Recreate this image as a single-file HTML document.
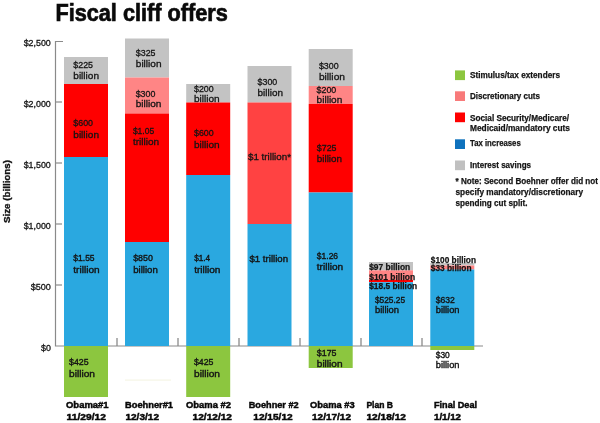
<!DOCTYPE html>
<html><head><meta charset="utf-8"><style>html,body{margin:0;padding:0;background:#fff;width:600px;height:423px;overflow:hidden}svg{display:block;will-change:transform}text{font-family:"Liberation Sans",sans-serif}</style></head><body>
<svg width="600" height="423" viewBox="0 0 600 423">
<rect x="0" y="0" width="600" height="423" fill="#fff"/>
<path d="M63 41.5H55.5V346H483" fill="none" stroke="#8a8a8a" stroke-width="1.2"/>
<path d="M55.5 102H62" stroke="#8a8a8a" stroke-width="1.2"/>
<path d="M55.5 163H62" stroke="#8a8a8a" stroke-width="1.2"/>
<path d="M55.5 224H62" stroke="#8a8a8a" stroke-width="1.2"/>
<path d="M55.5 285H62" stroke="#8a8a8a" stroke-width="1.2"/>
<path d="M117 338V346" stroke="#8a8a8a" stroke-width="1.3"/>
<path d="M178 338V346" stroke="#8a8a8a" stroke-width="1.3"/>
<path d="M239 338V346" stroke="#8a8a8a" stroke-width="1.3"/>
<path d="M300 338V346" stroke="#8a8a8a" stroke-width="1.3"/>
<path d="M361 338V346" stroke="#8a8a8a" stroke-width="1.3"/>
<path d="M422 338V346" stroke="#8a8a8a" stroke-width="1.3"/>
<rect x="64" y="57" width="44" height="27.00" fill="#c3c3c3"/>
<rect x="64" y="84" width="44" height="73.00" fill="#ff0000"/>
<rect x="64" y="157" width="44" height="189.00" fill="#2aa8e0"/>
<rect x="64" y="346" width="44" height="51.00" fill="#8cc63f"/>
<rect x="125" y="38.5" width="44" height="39.00" fill="#c3c3c3"/>
<rect x="125" y="77.5" width="44" height="36.00" fill="#ff8585"/>
<rect x="125" y="113.5" width="44" height="128.50" fill="#ff0000"/>
<rect x="125" y="242" width="44" height="104.00" fill="#2aa8e0"/>
<rect x="186.2" y="84" width="44" height="18.50" fill="#c3c3c3"/>
<rect x="186.2" y="102.5" width="44" height="72.50" fill="#ff0000"/>
<rect x="186.2" y="175" width="44" height="171.00" fill="#2aa8e0"/>
<rect x="186.2" y="346" width="44" height="51.00" fill="#8cc63f"/>
<rect x="247.5" y="66" width="44" height="36.50" fill="#c3c3c3"/>
<rect x="247.5" y="102.5" width="44" height="121.50" fill="#ff4242"/>
<rect x="247.5" y="224" width="44" height="122.00" fill="#2aa8e0"/>
<rect x="308.7" y="49" width="44" height="37.00" fill="#c3c3c3"/>
<rect x="308.7" y="86" width="44" height="18.00" fill="#ff8585"/>
<rect x="308.7" y="104" width="44" height="88.50" fill="#ff0000"/>
<rect x="308.7" y="192.5" width="44" height="153.50" fill="#2aa8e0"/>
<rect x="308.7" y="346" width="44" height="22.00" fill="#8cc63f"/>
<rect x="369" y="262" width="44" height="8.30" fill="#c3c3c3"/>
<rect x="369" y="270.3" width="44" height="9.70" fill="#ff8585"/>
<rect x="369" y="280" width="44" height="2.20" fill="#ff0000"/>
<rect x="369" y="282.2" width="44" height="63.80" fill="#2aa8e0"/>
<rect x="430.3" y="263" width="44" height="2.50" fill="#c3c3c3"/>
<rect x="430.3" y="265.5" width="44" height="4.00" fill="#ff8585"/>
<rect x="430.3" y="269.5" width="44" height="76.50" fill="#2aa8e0"/>
<rect x="430.3" y="346" width="44" height="4.00" fill="#8cc63f"/>
<rect x="125" y="379.5" width="46" height="1.20" fill="#f6f6e6"/>
<rect x="455" y="70.4" width="10" height="9.70" fill="#8cc63f"/>
<rect x="455" y="91.3" width="10" height="9.70" fill="#f87a7a"/>
<rect x="455" y="112.5" width="10" height="9.70" fill="#ff0000"/>
<rect x="455" y="139.3" width="10" height="9.70" fill="#0f72bd"/>
<rect x="455" y="160.5" width="10" height="9.70" fill="#c0c0c0"/>
<text x="55.4" y="20.8" font-size="23.5" fill="#0a0a0a" font-weight="bold" textLength="172.3" lengthAdjust="spacingAndGlyphs" stroke="#0a0a0a" stroke-width="0.7">Fiscal cliff offers</text>
<text x="23.7" y="45.8" font-size="8.7" fill="#141414" textLength="27.099999999999998" lengthAdjust="spacingAndGlyphs" stroke="#141414" stroke-width="0.3">$2,500</text>
<text x="23.7" y="106.8" font-size="8.7" fill="#141414" textLength="27.099999999999998" lengthAdjust="spacingAndGlyphs" stroke="#141414" stroke-width="0.3">$2,000</text>
<text x="23.7" y="167.8" font-size="8.7" fill="#141414" textLength="27.099999999999998" lengthAdjust="spacingAndGlyphs" stroke="#141414" stroke-width="0.3">$1,500</text>
<text x="23.7" y="228.8" font-size="8.7" fill="#141414" textLength="27.099999999999998" lengthAdjust="spacingAndGlyphs" stroke="#141414" stroke-width="0.3">$1,000</text>
<text x="30.7" y="289.8" font-size="8.7" fill="#141414" textLength="20.099999999999998" lengthAdjust="spacingAndGlyphs" stroke="#141414" stroke-width="0.3">$500</text>
<text x="41" y="350.8" font-size="8.7" fill="#141414" textLength="9.799999999999997" lengthAdjust="spacingAndGlyphs" stroke="#141414" stroke-width="0.3">$0</text>
<text x="73.3" y="68" font-size="9.4" fill="#141414" textLength="19.7" lengthAdjust="spacingAndGlyphs" stroke="#141414" stroke-width="0.3">$225</text>
<text x="73.3" y="79.2" font-size="9.4" fill="#141414" textLength="25.7" lengthAdjust="spacingAndGlyphs" stroke="#141414" stroke-width="0.3">billion</text>
<text x="73.3" y="125.8" font-size="9.4" fill="#141414" textLength="19.7" lengthAdjust="spacingAndGlyphs" stroke="#141414" stroke-width="0.3">$600</text>
<text x="73.3" y="137.5" font-size="9.4" fill="#141414" textLength="25.7" lengthAdjust="spacingAndGlyphs" stroke="#141414" stroke-width="0.3">billion</text>
<text x="73.3" y="260.8" font-size="9.4" fill="#141414" textLength="21.3" lengthAdjust="spacingAndGlyphs" stroke="#141414" stroke-width="0.4">$1.55</text>
<text x="73.3" y="272.9" font-size="9.4" fill="#141414" textLength="26.3" lengthAdjust="spacingAndGlyphs" stroke="#141414" stroke-width="0.4">trillion</text>
<text x="69.1" y="365.1" font-size="9.4" fill="#141414" textLength="19.5" lengthAdjust="spacingAndGlyphs" stroke="#141414" stroke-width="0.4">$425</text>
<text x="69.1" y="376.8" font-size="9.4" fill="#141414" textLength="25.9" lengthAdjust="spacingAndGlyphs" stroke="#141414" stroke-width="0.4">billion</text>
<text x="135.8" y="55.5" font-size="9.4" fill="#141414" textLength="19.7" lengthAdjust="spacingAndGlyphs" stroke="#141414" stroke-width="0.3">$325</text>
<text x="135.8" y="67" font-size="9.4" fill="#141414" textLength="25.7" lengthAdjust="spacingAndGlyphs" stroke="#141414" stroke-width="0.3">billion</text>
<text x="135.7" y="96.5" font-size="9.4" fill="#141414" textLength="19.7" lengthAdjust="spacingAndGlyphs" stroke="#141414" stroke-width="0.3">$300</text>
<text x="135.7" y="107.3" font-size="9.4" fill="#141414" textLength="25.7" lengthAdjust="spacingAndGlyphs" stroke="#141414" stroke-width="0.3">billion</text>
<text x="132.9" y="133.8" font-size="9.4" fill="#141414" textLength="21.3" lengthAdjust="spacingAndGlyphs" stroke="#141414" stroke-width="0.3">$1.05</text>
<text x="132.9" y="144.6" font-size="9.4" fill="#141414" textLength="26.3" lengthAdjust="spacingAndGlyphs" stroke="#141414" stroke-width="0.3">trillion</text>
<text x="133.2" y="261.3" font-size="9.4" fill="#141414" textLength="19.7" lengthAdjust="spacingAndGlyphs" stroke="#141414" stroke-width="0.4">$850</text>
<text x="133.2" y="272.7" font-size="9.4" fill="#141414" textLength="24.6" lengthAdjust="spacingAndGlyphs" stroke="#141414" stroke-width="0.4">billion</text>
<text x="194" y="91.9" font-size="9.4" fill="#141414" textLength="19.7" lengthAdjust="spacingAndGlyphs" stroke="#141414" stroke-width="0.3">$200</text>
<text x="194" y="102.3" font-size="9.4" fill="#141414" textLength="25.7" lengthAdjust="spacingAndGlyphs" stroke="#141414" stroke-width="0.3">billion</text>
<text x="194" y="135.8" font-size="9.4" fill="#141414" textLength="19.7" lengthAdjust="spacingAndGlyphs" stroke="#141414" stroke-width="0.3">$600</text>
<text x="194" y="147.5" font-size="9.4" fill="#141414" textLength="25.7" lengthAdjust="spacingAndGlyphs" stroke="#141414" stroke-width="0.3">billion</text>
<text x="194.2" y="261.3" font-size="9.4" fill="#141414" textLength="16" lengthAdjust="spacingAndGlyphs" stroke="#141414" stroke-width="0.4">$1.4</text>
<text x="194.2" y="273" font-size="9.4" fill="#141414" textLength="26.3" lengthAdjust="spacingAndGlyphs" stroke="#141414" stroke-width="0.4">trillion</text>
<text x="194" y="365.1" font-size="9.4" fill="#141414" textLength="19.5" lengthAdjust="spacingAndGlyphs" stroke="#141414" stroke-width="0.4">$425</text>
<text x="194" y="376.8" font-size="9.4" fill="#141414" textLength="25.9" lengthAdjust="spacingAndGlyphs" stroke="#141414" stroke-width="0.4">billion</text>
<text x="257.6" y="84.6" font-size="9.4" fill="#141414" textLength="19.7" lengthAdjust="spacingAndGlyphs" stroke="#141414" stroke-width="0.3">$300</text>
<text x="257.6" y="96" font-size="9.4" fill="#141414" textLength="25.4" lengthAdjust="spacingAndGlyphs" stroke="#141414" stroke-width="0.3">billion</text>
<text x="248" y="159.5" font-size="9.4" fill="#141414" textLength="43" lengthAdjust="spacingAndGlyphs" stroke="#141414" stroke-width="0.3">$1 trillion*</text>
<text x="249.5" y="261.5" font-size="9.4" fill="#141414" textLength="38.5" lengthAdjust="spacingAndGlyphs" stroke="#141414" stroke-width="0.4">$1 trillion</text>
<text x="318.9" y="69" font-size="9.4" fill="#141414" textLength="19.7" lengthAdjust="spacingAndGlyphs" stroke="#141414" stroke-width="0.3">$300</text>
<text x="318.9" y="80.4" font-size="9.4" fill="#141414" textLength="26.1" lengthAdjust="spacingAndGlyphs" stroke="#141414" stroke-width="0.3">billion</text>
<text x="316.6" y="92.7" font-size="9.4" fill="#141414" textLength="19.7" lengthAdjust="spacingAndGlyphs" stroke="#141414" stroke-width="0.3">$200</text>
<text x="316.6" y="103" font-size="9.4" fill="#141414" textLength="25.7" lengthAdjust="spacingAndGlyphs" stroke="#141414" stroke-width="0.3">billion</text>
<text x="316.8" y="150.5" font-size="9.4" fill="#141414" textLength="19.7" lengthAdjust="spacingAndGlyphs" stroke="#141414" stroke-width="0.3">$725</text>
<text x="316.8" y="162" font-size="9.4" fill="#141414" textLength="25.2" lengthAdjust="spacingAndGlyphs" stroke="#141414" stroke-width="0.3">billion</text>
<text x="316.8" y="258.5" font-size="9.4" fill="#141414" textLength="21.3" lengthAdjust="spacingAndGlyphs" stroke="#141414" stroke-width="0.4">$1.26</text>
<text x="316.8" y="270" font-size="9.4" fill="#141414" textLength="26.3" lengthAdjust="spacingAndGlyphs" stroke="#141414" stroke-width="0.4">trillion</text>
<text x="316.8" y="355.5" font-size="9.4" fill="#141414" textLength="19.7" lengthAdjust="spacingAndGlyphs" stroke="#141414" stroke-width="0.4">$175</text>
<text x="316.8" y="367" font-size="9.4" fill="#141414" textLength="25.7" lengthAdjust="spacingAndGlyphs" stroke="#141414" stroke-width="0.4">billion</text>
<text x="369.2" y="269.5" font-size="9" fill="#141414" font-weight="bold" textLength="41" lengthAdjust="spacingAndGlyphs" stroke="#141414" stroke-width="0.25">$97 billion</text>
<text x="369.2" y="279.5" font-size="9" fill="#141414" font-weight="bold" textLength="46" lengthAdjust="spacingAndGlyphs" stroke="#141414" stroke-width="0.25">$101 billion</text>
<text x="369.2" y="288.7" font-size="9" fill="#141414" font-weight="bold" textLength="48" lengthAdjust="spacingAndGlyphs" stroke="#141414" stroke-width="0.25">$18.5 billion</text>
<text x="375" y="303" font-size="9.4" fill="#141414" textLength="30" lengthAdjust="spacingAndGlyphs" stroke="#141414" stroke-width="0.4">$525.25</text>
<text x="375" y="313" font-size="9.4" fill="#141414" textLength="24" lengthAdjust="spacingAndGlyphs" stroke="#141414" stroke-width="0.4">billion</text>
<text x="430.8" y="263" font-size="9" fill="#141414" font-weight="bold" textLength="45.2" lengthAdjust="spacingAndGlyphs" stroke="#141414" stroke-width="0.25">$100 billion</text>
<text x="430.8" y="270.5" font-size="9" fill="#141414" font-weight="bold" textLength="40.7" lengthAdjust="spacingAndGlyphs" stroke="#141414" stroke-width="0.25">$33 billion</text>
<text x="435.8" y="303" font-size="9.4" fill="#141414" textLength="19" lengthAdjust="spacingAndGlyphs" stroke="#141414" stroke-width="0.4">$632</text>
<text x="435.8" y="313" font-size="9.4" fill="#141414" textLength="23.7" lengthAdjust="spacingAndGlyphs" stroke="#141414" stroke-width="0.4">billion</text>
<text x="435.8" y="358" font-size="9.4" fill="#141414" textLength="14" lengthAdjust="spacingAndGlyphs" stroke="#141414" stroke-width="0.4">$30</text>
<text x="435.8" y="368" font-size="9.4" fill="#141414" textLength="23.7" lengthAdjust="spacingAndGlyphs" stroke="#141414" stroke-width="0.4">billion</text>
<text x="66" y="408.3" font-size="9.3" fill="#080808" font-weight="bold" textLength="42.6" lengthAdjust="spacingAndGlyphs" stroke="#080808" stroke-width="0.45">Obama#1</text>
<text x="66.6" y="420.2" font-size="9.3" fill="#080808" font-weight="bold" textLength="39.4" lengthAdjust="spacingAndGlyphs" stroke="#080808" stroke-width="0.45">11/29/12</text>
<text x="125" y="408.3" font-size="9.3" fill="#080808" font-weight="bold" textLength="48" lengthAdjust="spacingAndGlyphs" stroke="#080808" stroke-width="0.45">Boehner#1</text>
<text x="125.4" y="420.2" font-size="9.3" fill="#080808" font-weight="bold" textLength="33.6" lengthAdjust="spacingAndGlyphs" stroke="#080808" stroke-width="0.45">12/3/12</text>
<text x="186" y="408.3" font-size="9.3" fill="#080808" font-weight="bold" textLength="45" lengthAdjust="spacingAndGlyphs" stroke="#080808" stroke-width="0.45">Obama #2</text>
<text x="192.6" y="420.2" font-size="9.3" fill="#080808" font-weight="bold" textLength="39.4" lengthAdjust="spacingAndGlyphs" stroke="#080808" stroke-width="0.45">12/12/12</text>
<text x="248.7" y="408.3" font-size="9.3" fill="#080808" font-weight="bold" textLength="50" lengthAdjust="spacingAndGlyphs" stroke="#080808" stroke-width="0.45">Boehner #2</text>
<text x="253.3" y="420.2" font-size="9.3" fill="#080808" font-weight="bold" textLength="39.4" lengthAdjust="spacingAndGlyphs" stroke="#080808" stroke-width="0.45">12/15/12</text>
<text x="310" y="408.3" font-size="9.3" fill="#080808" font-weight="bold" textLength="44.6" lengthAdjust="spacingAndGlyphs" stroke="#080808" stroke-width="0.45">Obama #3</text>
<text x="312" y="420.2" font-size="9.3" fill="#080808" font-weight="bold" textLength="39" lengthAdjust="spacingAndGlyphs" stroke="#080808" stroke-width="0.45">12/17/12</text>
<text x="366.4" y="408.3" font-size="9.3" fill="#080808" font-weight="bold" textLength="26.6" lengthAdjust="spacingAndGlyphs" stroke="#080808" stroke-width="0.45">Plan B</text>
<text x="366.4" y="420.2" font-size="9.3" fill="#080808" font-weight="bold" textLength="39.6" lengthAdjust="spacingAndGlyphs" stroke="#080808" stroke-width="0.45">12/18/12</text>
<text x="434" y="408.3" font-size="9.3" fill="#080808" font-weight="bold" textLength="43" lengthAdjust="spacingAndGlyphs" stroke="#080808" stroke-width="0.45">Final Deal</text>
<text x="434" y="420.2" font-size="9.3" fill="#080808" font-weight="bold" textLength="27" lengthAdjust="spacingAndGlyphs" stroke="#080808" stroke-width="0.45">1/1/12</text>
<text x="470" y="78" font-size="9" fill="#141414" font-weight="bold" textLength="90" lengthAdjust="spacingAndGlyphs" stroke="#141414" stroke-width="0.25">Stimulus/tax extenders</text>
<text x="470" y="99" font-size="9" fill="#141414" font-weight="bold" textLength="70" lengthAdjust="spacingAndGlyphs" stroke="#141414" stroke-width="0.25">Discretionary cuts</text>
<text x="470" y="120.7" font-size="9" fill="#141414" font-weight="bold" textLength="99" lengthAdjust="spacingAndGlyphs" stroke="#141414" stroke-width="0.25">Social Security/Medicare/</text>
<text x="470" y="131" font-size="9" fill="#141414" font-weight="bold" textLength="100" lengthAdjust="spacingAndGlyphs" stroke="#141414" stroke-width="0.25">Medicaid/mandatory cuts</text>
<text x="470" y="146" font-size="9" fill="#141414" font-weight="bold" textLength="50.7" lengthAdjust="spacingAndGlyphs" stroke="#141414" stroke-width="0.25">Tax increases</text>
<text x="470" y="167.6" font-size="9" fill="#141414" font-weight="bold" textLength="61" lengthAdjust="spacingAndGlyphs" stroke="#141414" stroke-width="0.25">Interest savings</text>
<text x="455.5" y="184.25" font-size="9" fill="#141414" font-weight="bold" textLength="142.5" lengthAdjust="spacingAndGlyphs" stroke="#141414" stroke-width="0.25">* Note: Second Boehner offer did not</text>
<text x="455.5" y="194.5" font-size="9" fill="#141414" font-weight="bold" textLength="127.5" lengthAdjust="spacingAndGlyphs" stroke="#141414" stroke-width="0.25">specify mandatory/discretionary</text>
<text x="455.5" y="205.75" font-size="9" fill="#141414" font-weight="bold" textLength="72" lengthAdjust="spacingAndGlyphs" stroke="#141414" stroke-width="0.25">spending cut split.</text>
<text x="0" y="0" font-size="9.3" font-weight="bold" fill="#141414" stroke="#141414" stroke-width="0.35" textLength="63" lengthAdjust="spacingAndGlyphs" transform="translate(9.6 223) rotate(-90)">Size (billions)</text>
</svg></body></html>
